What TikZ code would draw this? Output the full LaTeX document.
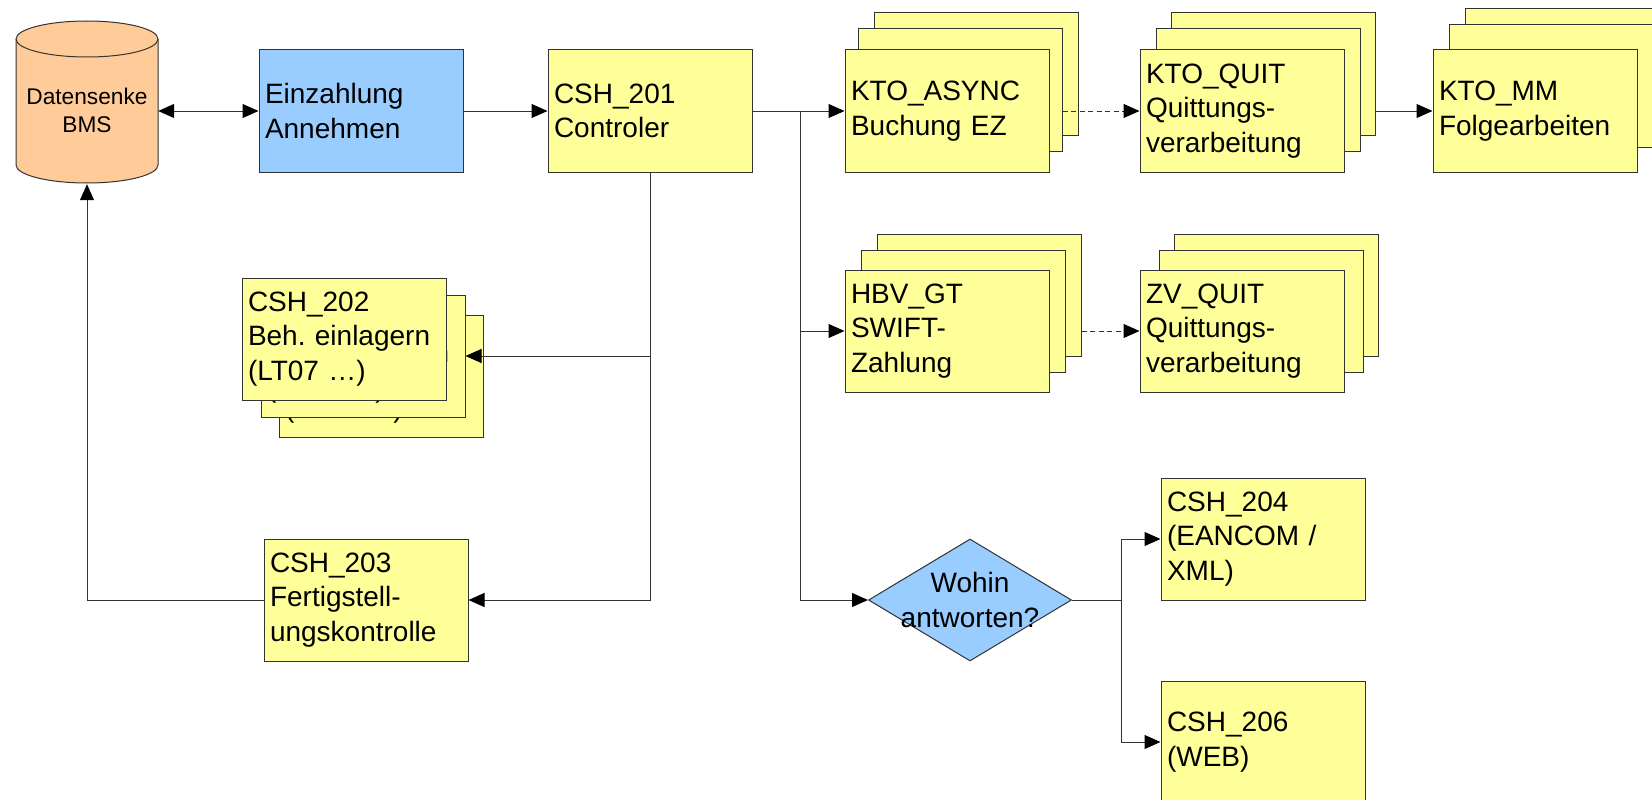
\documentclass[tikz,border=0pt]{standalone}
\usepackage{fontspec}
\setmainfont{Liberation Sans}
\usetikzlibrary{arrows.meta,shapes.geometric}

\definecolor{gelb}{HTML}{FFFF99}
\definecolor{hellblau}{HTML}{99CCFF}
\definecolor{pfirsich}{HTML}{FFCC99}
\definecolor{linie}{HTML}{333333}

\newcommand{\grossschrift}{\frenchspacing\fontsize{28pt}{34.5pt}\selectfont}
\newcommand{\kleinschrift}{\fontsize{22.7pt}{28pt}\selectfont}

\tikzset{
	spitze/.tip={Triangle[length=16pt,width=14pt,color=black]},
	kasten/.style={draw=linie, line width=1pt, fill=gelb, minimum width=204pt, minimum height=122pt,
		text width=192pt, inner xsep=6pt, inner ysep=0pt, align=left, font=\grossschrift},
	raute/.style={diamond, draw=linie, line width=1pt, fill=hellblau, minimum width=203pt,
		minimum height=122pt, inner sep=0pt},
	pfeil/.style={draw=linie, line width=1pt, -spitze},
	gestrichelt/.style={dash pattern=on 5pt off 3.5pt},
}

\begin{document}
\begin{tikzpicture}[x=1pt,y=-1pt]
			\useasboundingbox (0,0) rectangle (1652,800);
			\clip (0,0) rectangle (1652,800);

			% Datensenke
			\draw[draw=linie, line width=1pt, fill=pfirsich] (16,39) -- (16,165)
				arc[start angle=180, end angle=0, x radius=71, y radius=18] -- (158,39)
				arc[start angle=360, end angle=180, x radius=71, y radius=18] -- cycle;
			\draw[draw=linie, line width=1pt] (16,39) arc[start angle=180, end angle=0, x radius=71, y radius=18];
			\node[font=\kleinschrift, align=center, minimum width=142pt, minimum height=148pt, inner sep=0pt] (bms) at (87,110) {Datensenke\\BMS};

			\node[kasten, fill=hellblau] (einz) at (361,111) {Einzahlung\\Annehmen};
			\node[kasten] (ctl) at (650,111) {CSH\_201\\Controler};

			% Stapel oben
			\node[kasten] (asy-3) at (976,74) {};
			\node[kasten] (asy-2) at (960,90) {};
			\node[kasten] (asy) at (947,111) {KTO\_ASYNC\\Buchung EZ};

			\node[kasten] (kq-3) at (1273,74) {};
			\node[kasten] (kq-2) at (1258,90) {};
			\node[kasten] (kq) at (1242,111) {KTO\_QUIT\\Quittungs-\\verarbeitung};

			\node[kasten] (kmm-3) at (1567,70) {};
			\node[kasten] (kmm-2) at (1551,86) {};
			\node[kasten] (kmm) at (1535,111) {KTO\_MM\\Folgearbeiten};

			% Stapel mitte
			\node[kasten] (hbv-3) at (979,295) {};
			\node[kasten] (hbv-2) at (963,311) {};
			\node[kasten] (hbv) at (947,331) {HBV\_GT\\SWIFT-\\Zahlung};

			\node[kasten] (zvq-3) at (1276,295) {};
			\node[kasten] (zvq-2) at (1261,311) {};
			\node[kasten] (zvq) at (1242,331) {ZV\_QUIT\\Quittungs-\\verarbeitung};

			% Stapel links
			\node[kasten] (c202-3) at (381,376) {CSH\_202\\Beh. einlagern\\(LT07 …)};
			\node[kasten] (c202-2) at (363,356) {CSH\_202\\Beh. einlagern\\(LT07 …)};
			\node[kasten] (c202) at (344,339) {CSH\_202\\Beh. einlagern\\(LT07 …)};

			\node[kasten] (c203) at (366,600) {CSH\_203\\Fertigstell-\\ungskontrolle};

			\node[raute, label={[font=\grossschrift, align=center]center:Wohin\\antworten?}] (dia) at (970,600) {};

			\node[kasten] (c204) at (1263,539) {CSH\_204\\(EANCOM /\\XML)};
			\node[kasten] (c206) at (1263,742) {CSH\_206\\(WEB)};

			% Verbindungen
			\coordinate (gabel) at (800,111);
			\coordinate (gabel2) at (1121,600);

			\draw[pfeil, spitze-spitze] (einz.west -| bms.east) -- (einz.west);
			\draw[pfeil] (einz.east) -- (ctl.west);
			\draw[pfeil] (ctl.east) -- (asy.west);
			\draw[pfeil] (gabel |- hbv.west) -- (hbv.west);
			\draw[pfeil] (gabel) |- (dia.west);
			\draw[pfeil] (ctl.south |- c202-2.east) -- (c202-2.east);
			\draw[pfeil] (ctl.south) |- (c203.east);
			\draw[pfeil] (c203.west) -| (bms.south);

			\draw[pfeil, gestrichelt] (asy.east -| asy-2.east) -- (kq.west);
			\draw[pfeil] (kq.east -| kq-3.east) -- (kmm.west);
			\draw[pfeil, gestrichelt] (hbv.east -| hbv-3.east) -- (zvq.west);

			\draw[draw=linie, line width=1pt] (dia.east) -- (gabel2);
			\draw[pfeil] (gabel2) |- (c204.west);
			\draw[pfeil] (gabel2) |- (c206.west);
\end{tikzpicture}
\end{document}
